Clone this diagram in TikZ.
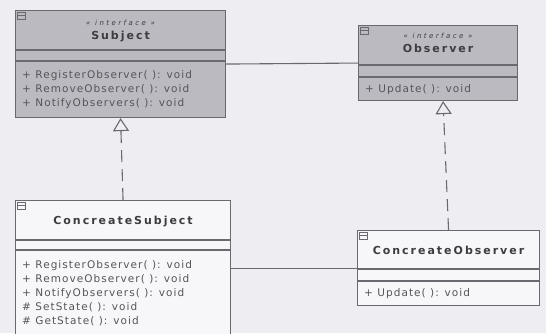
\documentclass[tikz,border=0pt]{standalone}
\usepackage{fontspec}
\setmainfont{DejaVu Sans}
\newfontfamily\umlfont[LetterSpace=10]{DejaVu Sans}
\newfontfamily\umltitlefont[LetterSpace=18]{DejaVu Sans}
\newfontfamily\umlsmallfont[LetterSpace=35]{DejaVu Sans}
\usetikzlibrary{positioning}
\usetikzlibrary{arrows.meta}

\begin{document}
\begin{tikzpicture}[x=1pt,y=-1pt,
	class node/.style={rectangle,draw=linegray,line width=1.1pt,anchor=north west,inner sep=0pt},
	name node/.style={font=\umltitlefont\bfseries\fontsize{11}{13}\selectfont,text=textgray,inner sep=0pt},
	stereo node/.style={font=\umlsmallfont\itshape\fontsize{7}{8}\selectfont,text=textgray,inner sep=0pt},
	op node/.style={font=\umlfont\fontsize{10.5}{14}\selectfont,text=opgray,align=left,anchor=north west,inner sep=0pt},
	sep line/.style={draw=linegray,line width=1.1pt},
	assoc/.style={draw=linegray,line width=1.1pt},
	realize/.style={draw=linegray,line width=1.1pt,dash pattern=on 12pt off 7pt,
		-{Triangle[open,length=13pt,width=16pt]}}]
	
	\definecolor{bgcol}{RGB}{238,238,242}
	\definecolor{boxgray}{RGB}{186,186,192}
	\definecolor{boxwhite}{RGB}{247,247,250}
	\definecolor{linegray}{RGB}{105,105,112}
	\definecolor{textgray}{RGB}{60,60,65}
	\definecolor{opgray}{RGB}{85,85,90}
	
	\useasboundingbox[fill=bgcol] (0,0) rectangle (546,333);
	\clip (0,0) rectangle (546,333);
	
	% classes
	\node[class node, fill=boxgray, minimum width=210, minimum height=107] (subj) at (15,10) {};
	\node[class node, fill=boxgray, minimum width=159, minimum height=75] (obs) at (358,25) {};
	\node[class node, fill=boxwhite, minimum width=215, minimum height=140] (cs) at (15,200) {};
	\node[class node, fill=boxwhite, minimum width=182, minimum height=75] (cobs) at (357,230) {};
	
	\foreach \c in {subj,obs,cs,cobs} {
		\draw[linegray, line width=0.6pt] ([xshift=2pt,yshift=-2pt]\c.north west) rectangle ++(8pt,-7pt);
		\draw[linegray, line width=0.6pt] ([xshift=2pt,yshift=-5pt]\c.north west) -- ++(8pt,0pt);
	}
	
	% compartments
	\draw[sep line] (subj.west |- 0,50) -- (subj.east |- 0,50);
	\draw[sep line] (subj.west |- 0,61) -- (subj.east |- 0,61);
	\draw[sep line] (obs.west |- 0,65) -- (obs.east |- 0,65);
	\draw[sep line] (obs.west |- 0,77) -- (obs.east |- 0,77);
	\draw[sep line] (cs.west |- 0,240) -- (cs.east |- 0,240);
	\draw[sep line] (cs.west |- 0,250) -- (cs.east |- 0,250);
	\draw[sep line] (cobs.west |- 0,269) -- (cobs.east |- 0,269);
	\draw[sep line] (cobs.west |- 0,281) -- (cobs.east |- 0,281);
	
	% names
	\node[stereo node] (subjst) at (subj.north |- 0,23) {« interface »};
	\node[name node, below=5pt of subjst] (subjname) {Subject};
	\node[stereo node] (obsst) at (obs.north |- 0,36) {« interface »};
	\node[name node, below=5pt of obsst] (obsname) {Observer};
	\node[name node] (csname) at (cs.north |- 0,222) {ConcreateSubject};
	\node[name node] (cobsname) at (cobs.north |- 0,250) {ConcreateObserver};
	
	% operations
	\node[op node] (subjops) at (22,70) {+ RegisterObserver( ): void\\+ RemoveObserver( ): void\\+ NotifyObservers( ): void};
	\node[op node] (obsops) at (365,84) {+ Update( ): void};
	\node[op node] (csops) at (22,260) {+ RegisterObserver( ): void\\+ RemoveObserver( ): void\\+ NotifyObservers( ): void\\\# SetState( ): void\\\# GetState( ): void};
	\node[op node] (cobsops) at (364,288) {+ Update( ): void};
	
	% relations
	\draw[assoc] (subj.east) -- (obs.west);
	\draw[assoc] (cobs.west) -- (cobs.west -| cs.east);
	\draw[realize] (cs.north) -- (subj.south);
	\draw[realize] (cobs.north) -- ([xshift=5pt]obs.south);
\end{tikzpicture}
\end{document}
